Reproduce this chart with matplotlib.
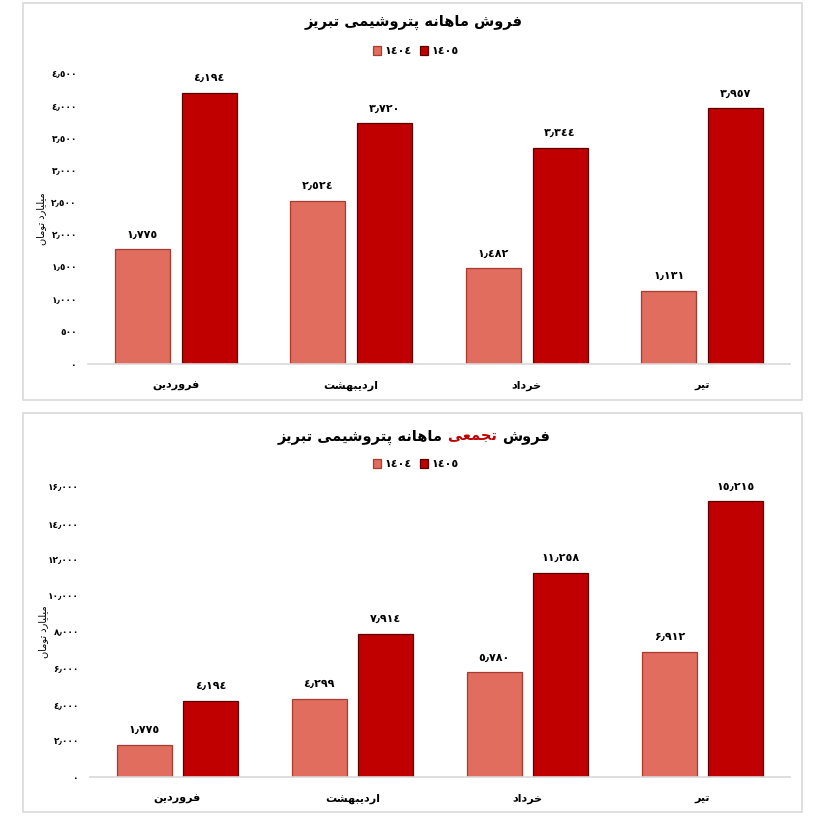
import numpy as np
import matplotlib.pyplot as plt
from matplotlib.patches import Rectangle
from matplotlib.offsetbox import TextArea, HPacker, AnchoredOffsetbox

months = ["فروردین", "اردیبهشت", "خرداد", "تیر"]
years = ["1404", "1405"]
monthly_1404 = [1775, 2524, 1482, 1131]
monthly_1405 = [4194, 3720, 3344, 3957]
cum_1404 = [1775, 4299, 5780, 6912]
cum_1405 = [4194, 7914, 11258, 15215]
ticks_monthly = np.arange(0, 4501, 500)
ticks_cum = np.arange(0, 16001, 2000)

title_1 = "فروش ماهانه پتروشیمی تبریز"
title_2 = ["فروش", "تجمعی", "ماهانه پتروشیمی تبریز"]
ylabel = "میلیارد تومان"

LIGHT = "#E06D5E"
LIGHT_EDGE = "#A83A32"
DARK = "#C00000"
DARK_EDGE = "#5A0000"
GRID = "#D9D9D9"

# contextual forms: isolated, final, initial, medial
FORMS = {
    "ا": ("\uFE8D", "\uFE8E", None, None),
    "ب": ("\uFE8F", "\uFE90", "\uFE91", "\uFE92"),
    "پ": ("\uFB56", "\uFB57", "\uFB58", "\uFB59"),
    "ت": ("\uFE95", "\uFE96", "\uFE97", "\uFE98"),
    "ج": ("\uFE9D", "\uFE9E", "\uFE9F", "\uFEA0"),
    "خ": ("\uFEA5", "\uFEA6", "\uFEA7", "\uFEA8"),
    "د": ("\uFEA9", "\uFEAA", None, None),
    "ر": ("\uFEAD", "\uFEAE", None, None),
    "ز": ("\uFEAF", "\uFEB0", None, None),
    "ش": ("\uFEB5", "\uFEB6", "\uFEB7", "\uFEB8"),
    "ع": ("\uFEC9", "\uFECA", "\uFECB", "\uFECC"),
    "ف": ("\uFED1", "\uFED2", "\uFED3", "\uFED4"),
    "ل": ("\uFEDD", "\uFEDE", "\uFEDF", "\uFEE0"),
    "م": ("\uFEE1", "\uFEE2", "\uFEE3", "\uFEE4"),
    "ن": ("\uFEE5", "\uFEE6", "\uFEE7", "\uFEE8"),
    "ه": ("\uFEE9", "\uFEEA", "\uFEEB", "\uFEEC"),
    "و": ("\uFEED", "\uFEEE", None, None),
    "ی": ("\uFBFC", "\uFBFD", "\uFBFE", "\uFBFF"),
}


def fa(text):
    out = []
    for i, ch in enumerate(text):
        if ch not in FORMS:
            out.append(ch)
            continue
        prev = text[i - 1] if i > 0 else ""
        nxt = text[i + 1] if i + 1 < len(text) else ""
        joins_prev = prev in FORMS and FORMS[prev][2] is not None
        joins_next = FORMS[ch][2] is not None and nxt in FORMS
        iso, fin, ini, med = FORMS[ch]
        if joins_prev and joins_next:
            out.append(med)
        elif joins_prev:
            out.append(fin)
        elif joins_next:
            out.append(ini)
        else:
            out.append(iso)
    return "".join(out[::-1])


def digits(v, sep=True):
    s = f"{int(v):,}" if sep else str(int(v))
    s = s.replace(",", "\u066B")
    return s.translate(str.maketrans("0123456789", "٠١٢٣٤٥\u06F6٧٨٩"))


plt.rcParams['font.family'] = ['DejaVu Sans']
plt.rcParams['font.weight'] = 'bold'

fig = plt.figure(figsize=(8.27, 8.22), dpi=100)
H = 822.0
W = 827.0

# panel frames
for top, bot in [(3, 400), (413, 812)]:
    fig.patches.append(Rectangle((23 / W, 1 - bot / H), (802 - 23) / W, (bot - top) / H,
                                 transform=fig.transFigure, fill=False,
                                 edgecolor=GRID, linewidth=1.2))


def panel(rect, v1, v2, ticks, title_y, legend_y, colored_title=False):
    ax = fig.add_axes(rect)
    x = np.arange(len(months))
    w = 0.313
    off = 0.19
    b1 = ax.bar(x - off, v1, w, color=LIGHT, edgecolor=LIGHT_EDGE, linewidth=0.9,
                label=digits(years[0], sep=False))
    b2 = ax.bar(x + off, v2, w, color=DARK, edgecolor=DARK_EDGE, linewidth=0.9,
                label=digits(years[1], sep=False))
    ax.bar_label(b1, labels=[digits(v) for v in v1], padding=7, fontsize=8,
                 fontweight='bold')
    ax.bar_label(b2, labels=[digits(v) for v in v2], padding=7, fontsize=8,
                 fontweight='bold')
    ax.set_xlim(-0.5, len(months) - 0.5)
    ax.set_ylim(ticks[0], ticks[-1])
    ax.set_yticks(ticks)
    ax.set_yticklabels([digits(t) for t in ticks], fontsize=6.5, fontweight='bold')
    ax.set_xticks(x)
    ax.set_xticklabels([fa(m) for m in months], fontsize=8, fontweight='bold')
    ax.tick_params(axis='both', length=0)
    ax.tick_params(axis='x', pad=12)
    ax.tick_params(axis='y', pad=8)
    for s in ['top', 'right', 'left']:
        ax.spines[s].set_visible(False)
    ax.spines['bottom'].set_color(GRID)
    ax.spines['bottom'].set_linewidth(1.2)
    ax.set_ylabel(fa(ylabel), fontsize=7, fontweight='normal')
    ax.yaxis.set_label_coords(-0.06, 0.5)

    fig.legend(handles=[b1, b2], loc='center', bbox_to_anchor=(0.503, 1 - legend_y / H),
               ncol=2, frameon=False, fontsize=8, handlelength=0.7, handleheight=0.9,
               handletextpad=0.3, columnspacing=0.8)

    props = dict(fontsize=10.5, fontweight='bold')
    if colored_title:
        parts = [TextArea(fa(title_2[2]) + " ", textprops=dict(color='black', **props)),
                 TextArea(fa(title_2[1]) + " ", textprops=dict(color=DARK, **props)),
                 TextArea(fa(title_2[0]), textprops=dict(color='black', **props))]
        box = HPacker(children=parts, align='baseline', pad=0, sep=0)
        anchored = AnchoredOffsetbox(loc='center', child=box, frameon=False,
                                     bbox_to_anchor=(0.5, 1 - title_y / H),
                                     bbox_transform=fig.transFigure, borderpad=0, pad=0)
        fig.add_artist(anchored)
    else:
        fig.text(0.5, 1 - title_y / H, fa(title_1), ha='center', va='center', **props)
    return ax


panel([88 / W, 1 - 364 / H, 702 / W, (364 - 73) / H], monthly_1404, monthly_1405,
      ticks_monthly, 22, 51)
panel([90 / W, 1 - 777 / H, 700 / W, (777 - 487) / H], cum_1404, cum_1405,
      ticks_cum, 437, 464, colored_title=True)

fig.savefig("out.png", dpi=100)
